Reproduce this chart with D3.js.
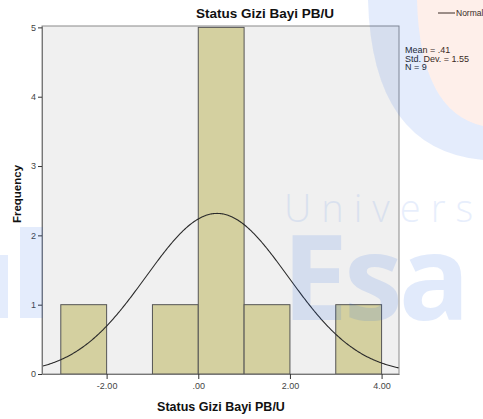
<!DOCTYPE html>
<html>
<head>
<meta charset="utf-8">
<script src="https://d3js.org/d3.v7.min.js"></script>
<style>
  body { margin: 0; background: #fff; }
  svg text { font-family: "Liberation Sans", Arial, sans-serif; }
</style>
</head>
<body>
<svg width="483" height="419"></svg>
<script>
  // histogram data
  const binStarts = [-3, -2, -1, 0, 1, 2, 3];
  const binCounts = [1, 0, 1, 5, 1, 0, 1];
  const binWidth = 1;
  const mean = 0.41, stdDev = 1.55, n = 9;
  const xTicks = [-2, 0, 2, 4];
  const yTicks = [0, 1, 2, 3, 4, 5];
  const statLines = ['Mean = .41', 'Std. Dev. = 1.55', 'N = 9'];

  const svg = d3.select('svg');
  const margin = {top: 26, left: 42, right: 84, bottom: 45};
  const width = +svg.attr('width'), height = +svg.attr('height');
  const innerW = width - margin.left - margin.right;
  const innerH = height - margin.top - margin.bottom;

  const x = d3.scaleLinear().domain([-3.41, 4.38]).range([0, innerW]);
  const y = d3.scaleLinear().domain([0, 5.02]).range([innerH, 0]);

  const g = svg.append('g').attr('transform', `translate(${margin.left},${margin.top})`);

  g.append('rect').attr('width', innerW).attr('height', innerH)
    .attr('fill', '#f0f0f0').attr('stroke', '#8a8a8a').attr('stroke-width', 1);

  const bins = binStarts.map((s, i) => ({x0: s, x1: s + binWidth, count: binCounts[i]}))
    .filter(d => d.count > 0);

  g.selectAll('rect.bar').data(bins).enter().append('rect')
    .attr('class', 'bar')
    .attr('x', d => x(d.x0))
    .attr('y', d => y(d.count))
    .attr('width', d => x(d.x1) - x(d.x0))
    .attr('height', d => y(0) - y(d.count))
    .attr('fill', '#d4d0a0')
    .attr('stroke', '#555')
    .attr('stroke-width', 1);

  // normal curve
  const pdf = v => n * binWidth / (stdDev * Math.sqrt(2 * Math.PI)) *
    Math.exp(-0.5 * Math.pow((v - mean) / stdDev, 2));
  const xs = d3.range(-3.41, 4.381, 0.02);
  g.append('path').datum(xs)
    .attr('d', d3.line().x(v => x(v)).y(v => y(pdf(v))))
    .attr('fill', 'none').attr('stroke', '#2a2a2a').attr('stroke-width', 1.1);

  // axes
  const yAxis = g.append('g').call(d3.axisLeft(y).tickValues(yTicks).tickSize(4).tickSizeOuter(0)
    .tickPadding(2).tickFormat(d3.format('d')));
  const xAxis = g.append('g').attr('transform', `translate(0,${innerH})`)
    .call(d3.axisBottom(x).tickValues(xTicks).tickSize(5).tickSizeOuter(0).tickPadding(4)
      .tickFormat(d => d === 0 ? '.00' : d.toFixed(2)));
  [yAxis, xAxis].forEach(a => {
    a.select('.domain').attr('stroke', '#777');
    a.selectAll('.tick line').attr('stroke', '#333');
    a.selectAll('text').attr('fill', '#444').style('font-size', '9px');
  });

  // titles
  svg.append('text').attr('x', 265).attr('y', 18).attr('text-anchor', 'middle')
    .style('font-size', '13.5px').style('font-weight', 'bold').attr('fill', '#111')
    .text('Status Gizi Bayi PB/U');
  svg.append('text').attr('x', 221).attr('y', 411).attr('text-anchor', 'middle')
    .style('font-size', '12.5px').style('font-weight', 'bold').attr('fill', '#111')
    .text('Status Gizi Bayi PB/U');
  svg.append('text').attr('transform', 'translate(21,194) rotate(-90)').attr('text-anchor', 'middle')
    .style('font-size', '11.5px').style('font-weight', 'bold').attr('fill', '#111')
    .text('Frequency');

  // legend + stats
  svg.append('line').attr('x1', 438).attr('x2', 455).attr('y1', 13).attr('y2', 13)
    .attr('stroke', '#222').attr('stroke-width', 1);
  svg.append('text').attr('x', 456).attr('y', 16).style('font-size', '8.5px').attr('fill', '#222').text('Normal');
  svg.selectAll('text.stat').data(statLines).enter().append('text')
    .attr('class', 'stat').attr('x', 405).attr('y', (d, i) => 53 + i * 8.5)
    .style('font-size', '9px').attr('fill', '#222').text(d => d);

  // faint watermark over the chart
  const wm = svg.append('g').attr('pointer-events', 'none');
  wm.append('path').attr('d', 'M417,0 Q420,112 483,126 L483,0 Z')
    .attr('fill', '#f46a3c').attr('opacity', 0.11);
  wm.append('path').attr('d', 'M368,0 Q372,150 483,160 L483,126 Q420,112 417,0 Z')
    .attr('fill', '#1e64e6').attr('opacity', 0.12);
  wm.append('rect').attr('x', 0).attr('y', 255).attr('width', 8).attr('height', 63)
    .attr('fill', '#1e64e6').attr('opacity', 0.12);
  wm.append('rect').attr('x', 20).attr('y', 227).attr('width', 23).attr('height', 91)
    .attr('fill', '#1e64e6').attr('opacity', 0.12);
  wm.append('text').attr('x', 284).attr('y', 222)
    .style('font-family', '"Open Sans", sans-serif').style('font-size', '38px')
    .style('font-weight', 300).style('letter-spacing', '10px')
    .attr('fill', '#1e64e6').attr('opacity', 0.1).text('Univers');
  wm.append('text').attr('x', 282).attr('y', 320)
    .style('font-family', '"Open Sans", sans-serif').style('font-size', '118px')
    .style('font-weight', 700).style('letter-spacing', '-4px')
    .attr('fill', '#1e64e6').attr('opacity', 0.13).text('Esa');
</script>
</body>
</html>
